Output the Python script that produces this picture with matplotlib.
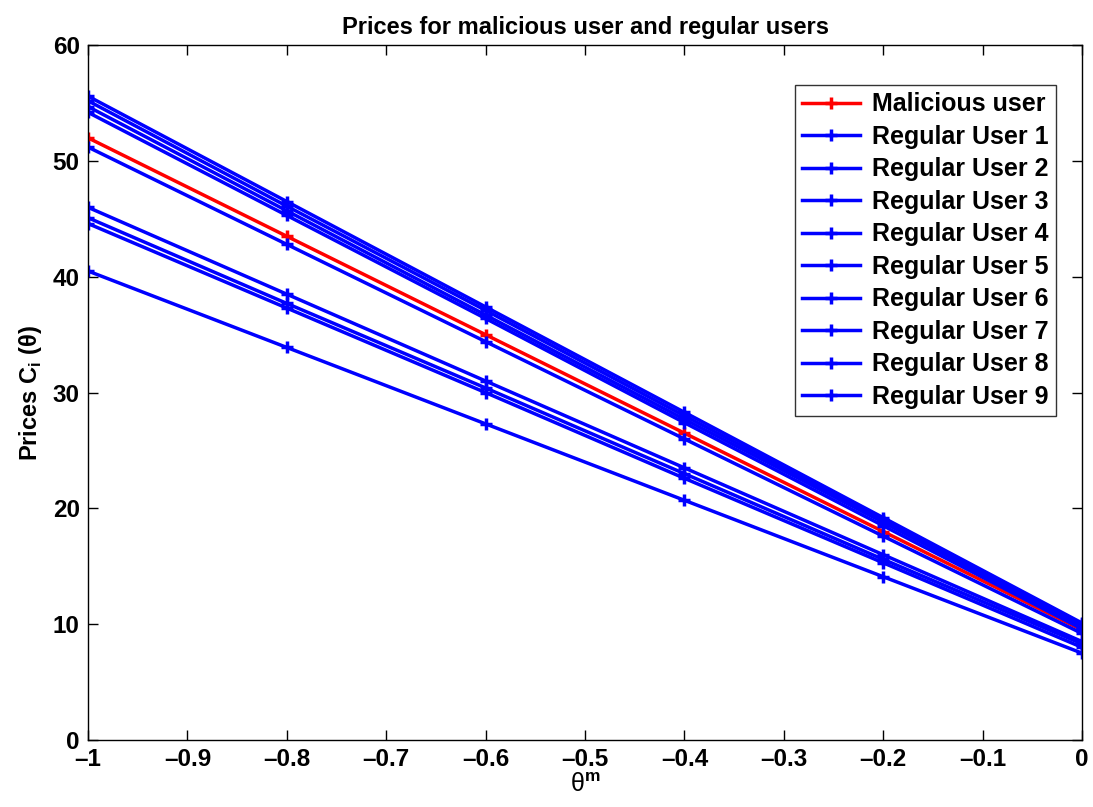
import matplotlib
matplotlib.use("Agg")
import matplotlib.pyplot as plt

plt.rcParams['font.family'] = ['Liberation Sans', 'DejaVu Sans']
plt.rcParams['mathtext.fontset'] = 'custom'
plt.rcParams['mathtext.rm'] = 'Liberation Sans'
plt.rcParams['mathtext.bf'] = 'Liberation Sans:bold'

theta = [-1.0, -0.8, -0.6, -0.4, -0.2, 0.0]

malicious = [52.0, 43.5, 35.0, 26.5, 18.0, 9.5]

regular_1 = [55.6, 46.5, 37.4, 28.3, 19.2, 10.1]
regular_2 = [55.2, 46.1, 37.1, 28.0, 19.0, 10.0]
regular_3 = [54.7, 45.7, 36.7, 27.7, 18.8, 9.8]
regular_4 = [54.2, 45.3, 36.4, 27.4, 18.5, 9.6]
regular_5 = [51.2, 42.8, 34.4, 26.0, 17.6, 9.2]
regular_6 = [46.0, 38.5, 31.0, 23.5, 16.0, 8.5]
regular_7 = [45.1, 37.7, 30.4, 23.0, 15.6, 8.3]
regular_8 = [44.6, 37.3, 30.0, 22.6, 15.3, 8.0]
regular_9 = [40.5, 33.9, 27.3, 20.7, 14.1, 7.5]

regular = [regular_1, regular_2, regular_3, regular_4, regular_5,
           regular_6, regular_7, regular_8, regular_9]

fig = plt.figure(figsize=(10.93, 8.07), dpi=100)
ax = fig.add_axes([0.0805, 0.083, 0.9095, 0.861])

ax.plot(theta, malicious, color='red', marker='+', markersize=9,
        markeredgewidth=2.5, linewidth=2.5, label='Malicious user')
for k, vals in enumerate(regular):
    ax.plot(theta, vals, color='blue', marker='+', markersize=9,
            markeredgewidth=2.5, linewidth=2.5, label='Regular User %d' % (k + 1))

ax.set_xlim(-1, 0)
ax.set_ylim(0, 60)
ax.set_xticks([-1, -0.9, -0.8, -0.7, -0.6, -0.5, -0.4, -0.3, -0.2, -0.1, 0])
ax.set_xticklabels(['\u20131', '\u20130.9', '\u20130.8', '\u20130.7', '\u20130.6', '\u20130.5',
                    '\u20130.4', '\u20130.3', '\u20130.2', '\u20130.1', '0'])
ax.set_yticks([0, 10, 20, 30, 40, 50, 60])
ax.tick_params(direction='in', top=True, right=True, length=7, width=1,
               labelsize=17.5)
ax.tick_params(axis='x', pad=6)
ax.tick_params(axis='y', pad=6)
for lab in ax.get_xticklabels() + ax.get_yticklabels():
    lab.set_fontweight('bold')
for sp in ax.spines.values():
    sp.set_linewidth(1)

ax.set_title('Prices for malicious user and regular users', fontsize=17,
             fontweight='bold', pad=8)
ax.set_xlabel('\u03b8$^{\\mathbf{m}}$', fontsize=18, labelpad=1)
ax.set_ylabel('Prices C$_\\mathbf{i}$ (\u03b8)', fontsize=17, fontweight='bold',
              labelpad=6)

leg = ax.legend(loc='upper right', bbox_to_anchor=(0.974, 0.943),
                prop={'weight': 'bold', 'size': 18}, frameon=True, fancybox=False,
                edgecolor='black', handlelength=2.3, labelspacing=0.34,
                borderpad=0.3, handletextpad=0.5, borderaxespad=0)
leg.get_frame().set_linewidth(1)

fig.savefig('out.png', dpi=100)
